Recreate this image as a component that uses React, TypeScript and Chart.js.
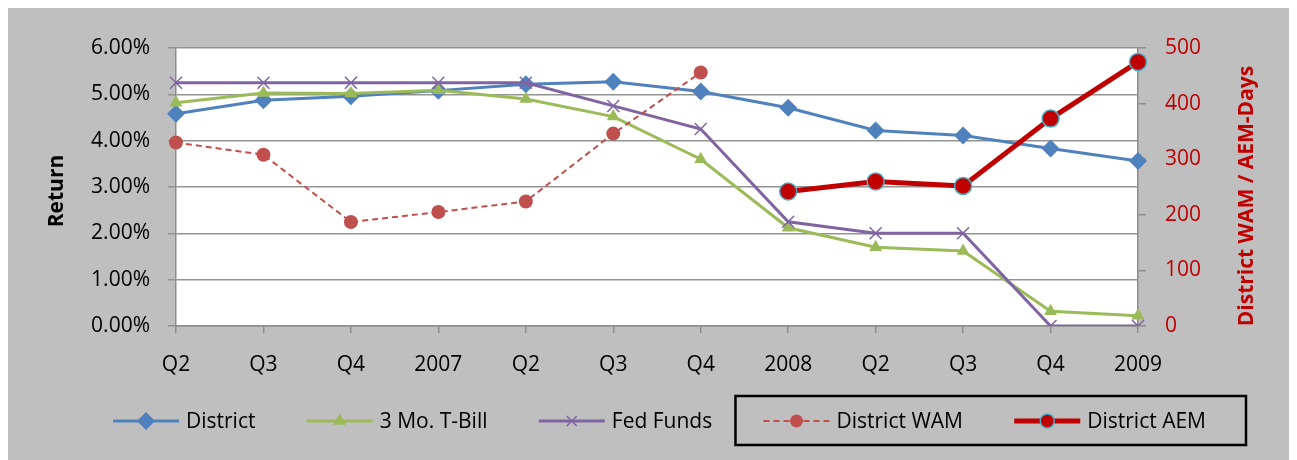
import React, { useEffect, useRef } from 'react';
import { Chart, registerables } from 'chart.js';
import { drawPoint } from 'chart.js/helpers';

Chart.register(...registerables);

const categories = ['Q2', 'Q3', 'Q4', '2007', 'Q2', 'Q3', 'Q4', '2008', 'Q2', 'Q3', 'Q4', '2009'];
const districtReturn = [4.58, 4.87, 4.96, 5.08, 5.22, 5.27, 5.06, 4.71, 4.22, 4.11, 3.83, 3.56];
const tBillReturn = [4.82, 5.03, 5.02, 5.09, 4.9, 4.52, 3.6, 2.12, 1.7, 1.62, 0.32, 0.22];
const fedFundsReturn = [5.25, 5.25, 5.25, 5.25, 5.25, 4.75, 4.25, 2.25, 2.0, 2.0, 0, 0];
const districtWAM = [330, 308, 187, 205, 224, 346, 456, null, null, null, null, null];
const districtAEM = [null, null, null, null, null, null, null, 242, 260, 252, 373, 475];

const leftTitle = 'Return';
const rightTitle = 'District WAM / AEM-Days';

const FONT = '"Open Sans", sans-serif';
const FS = 21;

const bgPlugin = {
  id: 'bgPlugin',
  beforeDraw(chart: any) {
    const { ctx, width, height, chartArea } = chart;
    ctx.save();
    ctx.fillStyle = '#bfbfbf';
    ctx.fillRect(0, 0, width, height);
    ctx.fillStyle = '#ffffff';
    ctx.fillRect(chartArea.left, chartArea.top, chartArea.right - chartArea.left, chartArea.bottom - chartArea.top);
    ctx.restore();
  },
};

const titlesPlugin = {
  id: 'axisTitles',
  afterDraw(chart: any) {
    const { ctx, chartArea } = chart;
    const mid = (chartArea.top + chartArea.bottom) / 2;
    ctx.save();
    ctx.font = `bold ${FS}px ${FONT}`;
    ctx.textAlign = 'center';
    ctx.textBaseline = 'alphabetic';
    ctx.save();
    ctx.translate(55, mid + 4);
    ctx.rotate(-Math.PI / 2);
    ctx.fillStyle = '#000000';
    ctx.fillText(leftTitle, 0, 0);
    ctx.restore();
    ctx.save();
    ctx.translate(1245, mid + 9);
    ctx.rotate(-Math.PI / 2);
    ctx.fillStyle = '#c00000';
    ctx.fillText(rightTitle, 0, 0);
    ctx.restore();
    ctx.restore();
  },
};

const legendPlugin = {
  id: 'customLegend',
  afterDraw(chart: any) {
    const ctx = chart.ctx;
    const dsets = chart.data.datasets;
    ctx.save();
    ctx.font = `${FS}px ${FONT}`;
    const lineW = 66;
    const gapText = 7;
    const startX = 105;
    const endX = 1198;
    const widths = dsets.map((d: any) => ctx.measureText(d.label).width);
    let used = 0;
    widths.forEach((w: number) => {
      used += lineW + gapText + w;
    });
    const gapItem = (endX - startX - used) / (dsets.length - 1);
    const y = 413;
    let x = startX;
    const starts: number[] = [];
    const ends: number[] = [];
    dsets.forEach((d: any, i: number) => {
      starts.push(x);
      ctx.save();
      ctx.strokeStyle = d.borderColor;
      ctx.lineWidth = d.borderWidth;
      ctx.setLineDash(d.borderDash || []);
      ctx.beginPath();
      ctx.moveTo(x, y);
      ctx.lineTo(x + lineW, y);
      ctx.stroke();
      ctx.setLineDash([]);
      ctx.fillStyle = d.pointBackgroundColor || d.backgroundColor;
      ctx.strokeStyle = d.pointBorderColor || d.borderColor;
      ctx.lineWidth = d.pointBorderWidth || 0;
      drawPoint(ctx, { pointStyle: d.pointStyle, radius: d.legendRadius, rotation: 0, borderWidth: d.pointBorderWidth || 0 } as any, x + lineW / 2, y);
      ctx.restore();
      ctx.fillStyle = '#000';
      ctx.textBaseline = 'middle';
      ctx.textAlign = 'left';
      ctx.fillText(d.label, x + lineW + gapText, y + 1);
      ends.push(x + lineW + gapText + widths[i]);
      x += lineW + gapText + widths[i] + gapItem;
    });
    if (starts.length >= 5) {
      ctx.strokeStyle = '#000';
      ctx.lineWidth = 2.5;
      const l = starts[3] - 28;
      const r = ends[4] + 40;
      ctx.strokeRect(l, y - 25, r - l, 49);
    }
    ctx.restore();
  },
};

export default function App() {
  const ref = useRef<HTMLCanvasElement | null>(null);

  useEffect(() => {
    document.body.style.overflow = 'hidden';
    const canvas = ref.current;
    if (!canvas) return;
    Chart.defaults.font.family = FONT;
    Chart.defaults.font.size = FS;
    const chart = new Chart(canvas, {
      type: 'line',
      data: {
        labels: categories,
        datasets: [
          {
            label: 'District',
            data: districtReturn,
            yAxisID: 'y',
            borderColor: '#4f81bd',
            backgroundColor: '#4f81bd',
            borderWidth: 3,
            pointStyle: 'rectRot',
            pointRadius: 9,
            pointBackgroundColor: '#4f81bd',
            pointBorderColor: '#4f81bd',
            pointBorderWidth: 0,
            legendRadius: 9,
            order: 5,
          } as any,
          {
            label: '3 Mo. T-Bill',
            data: tBillReturn,
            yAxisID: 'y',
            borderColor: '#9bbb59',
            backgroundColor: '#9bbb59',
            borderWidth: 3,
            pointStyle: 'triangle',
            pointRadius: 7.5,
            pointBackgroundColor: '#9bbb59',
            pointBorderColor: '#9bbb59',
            pointBorderWidth: 0,
            legendRadius: 7.5,
            order: 4,
          } as any,
          {
            label: 'Fed Funds',
            data: fedFundsReturn,
            yAxisID: 'y',
            borderColor: '#8064a2',
            backgroundColor: '#8064a2',
            borderWidth: 3,
            pointStyle: 'crossRot',
            pointRadius: 8.5,
            pointBackgroundColor: '#8064a2',
            pointBorderColor: '#8064a2',
            pointBorderWidth: 1.5,
            legendRadius: 7,
            order: 3,
          } as any,
          {
            label: 'District WAM',
            data: districtWAM,
            yAxisID: 'y1',
            borderColor: '#c0504d',
            backgroundColor: '#c0504d',
            borderWidth: 2,
            borderDash: [6, 4],
            pointStyle: 'circle',
            pointRadius: 7,
            pointBackgroundColor: '#c0504d',
            pointBorderColor: '#c0504d',
            pointBorderWidth: 0,
            legendRadius: 6.5,
            spanGaps: false,
            order: 2,
          } as any,
          {
            label: 'District AEM',
            data: districtAEM,
            yAxisID: 'y1',
            borderColor: '#c00000',
            backgroundColor: '#c00000',
            borderWidth: 5,
            pointStyle: 'circle',
            pointRadius: 8.5,
            pointBackgroundColor: '#c00000',
            pointBorderColor: '#4bacc6',
            pointBorderWidth: 1.5,
            legendRadius: 7,
            spanGaps: false,
            order: 1,
          } as any,
        ],
      },
      options: {
        responsive: false,
        animation: false,
        events: [],
        layout: { padding: { top: 40, bottom: 74, left: 0, right: 0 } },
        elements: { line: { tension: 0 } },
        plugins: {
          legend: { display: false },
          tooltip: { enabled: false },
        },
        scales: {
          x: {
            type: 'category',
            offset: false,
            grid: {
              display: true,
              drawOnChartArea: false,
              drawTicks: true,
              tickLength: 7,
              color: '#8c8c8c',
              lineWidth: 1.5,
            },
            border: { display: true, color: '#8c8c8c', width: 1.5 },
            ticks: { color: '#000', font: { size: FS }, padding: 19, maxRotation: 0, autoSkip: false },
            afterFit(s: any) {
              s.height = 60;
            },
          },
          y: {
            position: 'left',
            min: 0,
            max: 6,
            ticks: {
              stepSize: 1,
              color: '#000',
              font: { size: FS },
              padding: 18,
              callback: (v: any) => Number(v).toFixed(2) + '%',
            },
            grid: { color: '#939393', lineWidth: 1.5, tickLength: 8 },
            border: { display: true, color: '#8c8c8c', width: 1.5 },
            afterFit(s: any) {
              s.width = 168;
            },
          },
          y1: {
            position: 'right',
            min: 0,
            max: 500,
            ticks: {
              stepSize: 100,
              color: '#c00000',
              font: { size: FS },
              padding: 19,
            },
            grid: { drawOnChartArea: false, color: '#8c8c8c', lineWidth: 1.5, tickLength: 8 },
            border: { display: true, color: '#8c8c8c', width: 1.5 },
            afterFit(s: any) {
              s.width = 159;
            },
          },
        },
      } as any,
      plugins: [bgPlugin, titlesPlugin, legendPlugin],
    });
    return () => chart.destroy();
  }, []);

  return (
    <div style={{ width: 1289, height: 452 }}>
      <canvas ref={ref} width={1289} height={452} style={{ display: 'block' }} />
    </div>
  );
}
